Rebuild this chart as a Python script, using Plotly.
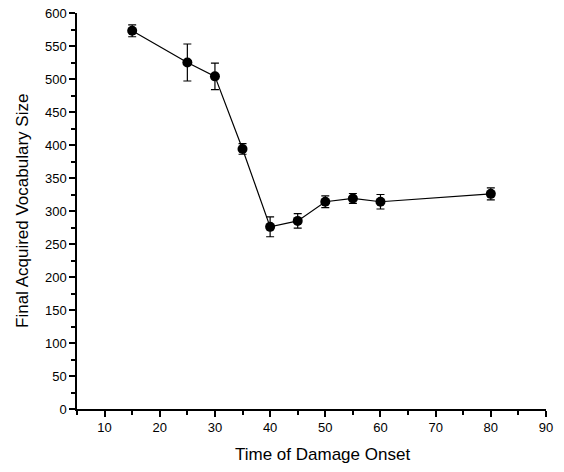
import plotly.graph_objects as go

onset = [15, 25, 30, 35, 40, 45, 50, 55, 60, 80]
vocab = [573, 525, 504, 394, 276, 285, 314, 319, 314, 326]
err = [9, 28, 20, 8, 15, 11, 9, 7.5, 11, 9]

x_ticks = [10, 20, 30, 40, 50, 60, 70, 80, 90]
y_ticks = list(range(0, 601, 50))

x_title = "Time of Damage Onset"
y_title = "Final Acquired Vocabulary Size"

fig = go.Figure()
fig.add_trace(go.Scatter(
    x=onset, y=vocab, mode="lines+markers",
    line=dict(color="black", width=1.2),
    marker=dict(color="black", size=10, symbol="circle"),
    error_y=dict(type="data", array=err, visible=True, color="black",
                 thickness=1.2, width=4),
    showlegend=False, hoverinfo="skip",
))

font_family = "Liberation Sans, Arial, sans-serif"
fig.update_layout(
    width=564, height=472,
    margin=dict(l=77, r=18, t=13, b=63),
    plot_bgcolor="white", paper_bgcolor="white",
    font=dict(family=font_family, color="black", size=12),
)
fig.update_xaxes(
    range=[5, 90], tickvals=x_ticks, ticktext=[str(v) for v in x_ticks],
    showgrid=False, zeroline=False, automargin=False,
    showline=True, linecolor="black", linewidth=1.5,
    ticks="outside", ticklen=6, tickwidth=1.5, tickcolor="black",
    minor=dict(dtick=5, tick0=5, ticks="outside", ticklen=4, tickwidth=1.5, tickcolor="black"),
    tickfont=dict(size=13),
)
fig.update_yaxes(
    range=[0, 600], tickvals=y_ticks, ticktext=[str(v) for v in y_ticks],
    showgrid=False, zeroline=False, automargin=False,
    showline=True, linecolor="black", linewidth=1.5,
    ticks="outside", ticklen=6, tickwidth=1.5, tickcolor="black",
    minor=dict(dtick=25, tick0=0, ticks="outside", ticklen=4, tickwidth=1.5, tickcolor="black"),
    tickfont=dict(size=13),
)
fig.add_annotation(
    text=x_title, xref="paper", yref="paper", x=0.5245, y=-0.116,
    xanchor="center", yanchor="middle", showarrow=False, font=dict(size=17),
)
fig.add_annotation(
    text=y_title, xref="paper", yref="paper", x=-0.1173, y=0.5,
    xanchor="center", yanchor="middle", textangle=-90, showarrow=False,
    font=dict(size=17),
)

fig.write_html("out.html", config={"displayModeBar": False},
               post_script="document.body.style.margin='0';")
